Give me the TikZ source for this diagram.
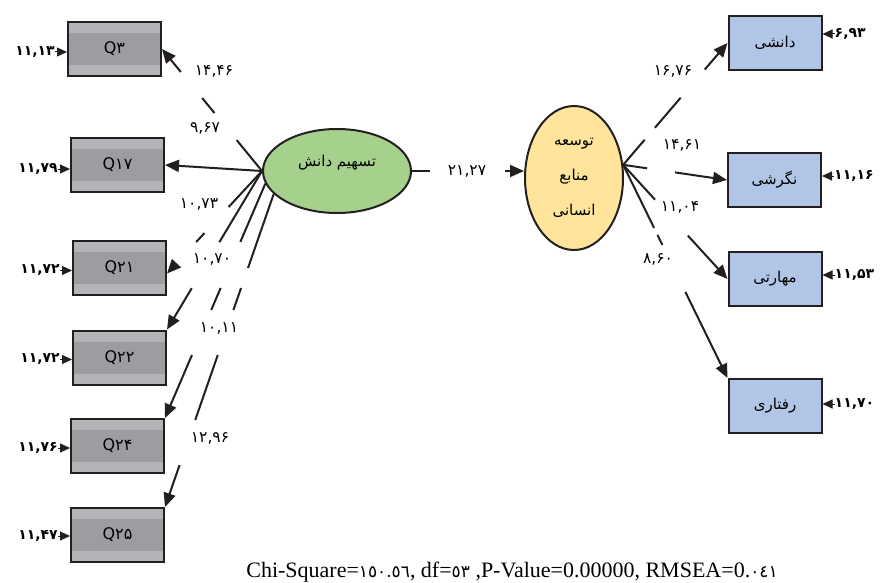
\documentclass[tikz,border=0pt]{standalone}
\usepackage{fontspec}
\setmainfont{Liberation Serif}
\newfontfamily\fa[Script=Arabic]{DejaVu Sans}
\newfontfamily\fad{DejaVu Sans}
\TeXXeTstate=1
\usetikzlibrary{arrows.meta,calc,shapes.geometric}
\definecolor{qlight}{HTML}{B3B4B8}
\definecolor{qmid}{HTML}{9C9DA1}
\definecolor{rblue}{HTML}{B1C5E6}
\definecolor{lgreen}{HTML}{A5D18C}
\definecolor{lyellow}{HTML}{FEE59B}
\definecolor{ink}{HTML}{231F20}
\newcommand\ardig[1]{{\fad\fontsize{17}{18}\selectfont#1}}
\tikzset{
  qbox/.style={draw=ink, line width=2pt, fill=qlight, minimum width=93pt, minimum height=54pt, inner sep=0pt,
    path picture={\fill[qmid] ([xshift=1pt,yshift=-11pt]path picture bounding box.north west) rectangle ([xshift=-1pt,yshift=11pt]path picture bounding box.south east);},
    font=\fad\fontsize{16}{18}\selectfont},
  rbox/.style={draw=ink, line width=2pt, fill=rblue, minimum width=93pt, minimum height=54pt, inner sep=0pt,
    font=\fa\fontsize{15}{18}\selectfont},
  latent/.style={ellipse, draw=ink, line width=2pt, inner sep=0pt},
  fatext/.style={font=\fa\fontsize{15}{18}\selectfont, inner sep=0pt},
  conn/.style={draw=ink, line width=2pt, -{Triangle[length=14pt,width=12pt]}},
  lab/.style={font=\fad\fontsize{15.5}{16}\selectfont, inner sep=0pt},
  errlab/.style={font=\fad\bfseries\fontsize{14}{15}\selectfont, inner sep=0pt},
  errarr/.style={draw=ink, line width=1pt, -{Triangle[length=10pt,width=9pt]}},
}
\begin{document}
\begin{tikzpicture}[x=1pt,y=-1pt]
\path[fill=white,use as bounding box] (0,0) rectangle (880,583);

% latent variables
\node[latent, fill=lgreen, minimum width=148pt, minimum height=84pt] (g) at (337,171) {};
\node[fatext] (gt) at (337,163) {\beginR تسهیم دانش\endR};
\node[latent, fill=lyellow, minimum width=98pt, minimum height=144pt] (ye) at (574,178) {};
\node[fatext, font=\fa\fontsize{15}{35}\selectfont, align=center] (yt) at (574,178)
  {\beginR توسعه\endR\\ \beginR منابع\endR\\ \beginR انسانی\endR};

% indicators of the first factor
\node[qbox] (q3)  at (114.5,49)    {Q۳};
\node[qbox] (q17) at (117.5,165)   {Q۱۷};
\node[qbox] (q21) at (119.5,267.5) {Q۲۱};
\node[qbox] (q22) at (119.5,357.5) {Q۲۲};
\node[qbox] (q24) at (117.5,446)   {Q۲۴};
\node[qbox] (q25) at (117.5,535)   {Q۲۵};

% indicators of the second factor
\node[rbox] (b1) at (775,43)    {\beginR دانشی\endR};
\node[rbox] (b2) at (774.5,180) {\beginR نگرشی\endR};
\node[rbox] (b3) at (775,279)   {\beginR مهارتی\endR};
\node[rbox] (b4) at (775,406)   {\beginR رفتاری\endR};

% loadings (lines broken where the values sit)
\draw[conn, dash pattern=on 40pt off 35pt on 19.4pt off 33.6pt on 300pt] (g.west) -- (q3.east);
\draw[conn] (g.west) -- (q17.east);
\draw[conn, dash pattern=on 49.1pt off 35.5pt on 12.2pt off 300pt] (g.west) -- ($(q21.east)+(0,6)$);
\draw[conn, dash pattern=on 83pt off 53.6pt on 300pt] (g.west) -- (q22.north east);
\draw[conn, dash pattern=on 63.4pt off 50.1pt on 23.9pt off 49pt on 300pt] (g.190) -- (q24.north east);
\draw[conn, dash pattern=on 78.3pt off 21.2pt on 23.3pt off 47.6pt on 68.8pt off 47.7pt on 300pt] (g.200) -- (q25.north east);
\draw[conn, dash pattern=on 18pt off 75pt on 300pt] (g.east) -- (g.east -| ye.west);
\draw[conn, dash pattern=on 33pt off 15.8pt on 39.6pt off 37pt on 300pt] (ye.15) -- (b1.west);
\draw[conn, dash pattern=on 24.2pt off 28.3pt on 300pt] (ye.15) -- (b2.west);
\draw[conn, dash pattern=on 47.2pt off 48.7pt on 300pt] (ye.15) -- (b3.west);
\draw[conn, dash pattern=on 70.2pt off 7.8pt on 11.1pt off 52.4pt on 300pt] (ye.15) -- (b4.north west);

% t-values
\node[lab] (t1) at (214,71)  {۱۴,۴۶};
\node[lab] (t2) at (205,128) {۹,۶۷};
\node[lab] (t3) at (199,204) {۱۰,۷۳};
\node[lab] (t4) at (212,259) {۱۰,۷۰};
\node[lab] (t5) at (219,328) {۱۰,۱۱};
\node[lab] (t6) at (210,438) {۱۲,۹۶};
\node[lab] (t7) at (467,171) {۲۱,۲۷};
\node[lab] (t8) at (673,71)  {۱۶,۷۶};
\node[lab] (t9) at (682,145) {۱۴,۶۱};
\node[lab] (t10) at (680,207) {۱۱,۰۴};
\node[lab] (t11) at (658,259) {۸,۶۰};

% error terms, left
\node[errlab, anchor=east] (e1) at ($(q3.west)+(-12,3)$)  {۱۱,۱۳};
\node[errlab, anchor=east] (e2) at ($(q17.west)+(-12,4)$) {۱۱,۷۹};
\node[errlab, anchor=east] (e3) at ($(q21.west)+(-12,3)$) {۱۱,۷۲};
\node[errlab, anchor=east] (e4) at ($(q22.west)+(-12,2)$) {۱۱,۷۲};
\node[errlab, anchor=east] (e5) at ($(q24.west)+(-12,2)$) {۱۱,۷۶};
\node[errlab, anchor=east] (e6) at ($(q25.west)+(-12,1)$) {۱۱,۴۷};
\foreach \e/\q in {e1/q3,e2/q17,e3/q21,e4/q22,e5/q24,e6/q25}
  \draw[errarr] (\e.east) -- (\e.east -| \q.west);

% error terms, right
\node[errlab, anchor=west] (f1) at ($(b1.east)+(12,-9)$) {۶,۹۳};
\node[errlab, anchor=west] (f2) at ($(b2.east)+(12,-4)$) {۱۱,۱۶};
\node[errlab, anchor=west] (f3) at ($(b3.east)+(12,-4)$) {۱۱,۵۳};
\node[errlab, anchor=west] (f4) at ($(b4.east)+(12,-2)$) {۱۱,۷۰};
\foreach \f/\b in {f1/b1,f2/b2,f3/b3,f4/b4}
  \draw[errarr] (\f.west) -- (\f.west -| \b.east);

% fit statistics
\node[font=\fontsize{22}{24}\selectfont, anchor=base, inner sep=0pt] (fit) at (512,577)
  {Chi-Square=\ardig{١٥٠.٥٦}, df=\ardig{٥٣} ,P-Value=0.00000, RMSEA=0.\ardig{٠٤١}};
\end{tikzpicture}
\end{document}
